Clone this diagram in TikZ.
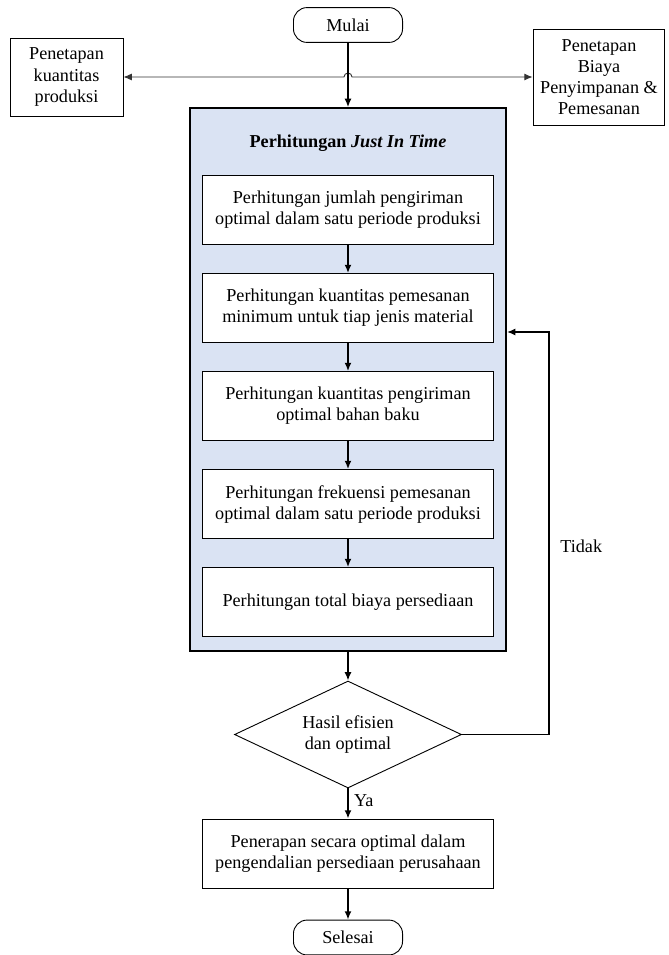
\documentclass[tikz,border=0pt]{standalone}
\usepackage{fontspec}
\setmainfont{Liberation Serif}
\usetikzlibrary{shapes.geometric,arrows,arrows.meta,fit,positioning}
\definecolor{jitbiru}{RGB}{218,227,243}

\begin{document}
\begin{tikzpicture}[x=0.66pt,y=-0.66pt,>={Latex[length=5.5pt,width=4.6pt]},font=\fontsize{12}{13.9}\selectfont]
\tikzstyle{proses}=[rectangle,draw=black,fill=white,line width=0.6pt,
align=center,inner sep=2pt,node distance=64.7pt,
minimum width=192pt,minimum height=45.5pt]
\tikzstyle{terminal}=[rectangle,rounded corners=9pt,draw=black,line width=0.6pt,
inner sep=2pt,minimum width=72pt,minimum height=23pt]
\tikzstyle{samping}=[rectangle,draw=black,line width=0.6pt,align=center,inner sep=2pt]
\tikzstyle{panah}=[->,line width=1.3pt]
\useasboundingbox (0,0) rectangle (668,955);

\node[terminal] at (348,25) (mulai) {Mulai};
\node[samping,minimum width=74.6pt,minimum height=51.5pt] at (66.5,77) (kuantitas) {Penetapan\\kuantitas\\produksi};
\node[samping,minimum width=87pt,minimum height=63.4pt] at (599,77) (biaya) {Penetapan\\Biaya\\Penyimpanan \&\\Pemesanan};

\coordinate (jitA) at (190,108);
\coordinate (jitB) at (506,651);
\node[draw=black,line width=1.3pt,fill=jitbiru,inner sep=0pt,fit=(jitA)(jitB)] (jit) {};
\node[font=\fontsize{12}{13.9}\selectfont\bfseries] at (348,143) (judul) {Perhitungan \textit{Just In Time}};

\node[proses] at (348,210) (hitung1) {Perhitungan jumlah pengiriman\\optimal dalam satu periode produksi};
\node[proses,below of =hitung1] (hitung2) {Perhitungan kuantitas pemesanan\\minimum untuk tiap jenis material};
\node[proses,below of =hitung2] (hitung3) {Perhitungan kuantitas pengiriman\\optimal bahan baku};
\node[proses,below of =hitung3] (hitung4) {Perhitungan frekuensi pemesanan\\optimal dalam satu periode produksi};
\node[proses,below of =hitung4] (hitung5) {Perhitungan total biaya persediaan};

\node[diamond,draw=black,line width=0.6pt,align=center,aspect=2,inner sep=0pt,
minimum width=149.8pt,minimum height=70.6pt] at (348,734.5) (cek) {Hasil efisien\\dan optimal};
\node[proses] at (348,853.5) (terap) {Penerapan secara optimal dalam\\pengendalian persediaan perusahaan};
\node[terminal] at (348,937.5) (selesai) {Selesai};
\node[right] at (555,546) (tidak) {Tidak};

\coordinate (lompatA) at (344,77);
\coordinate (balik) at (549,332);

\draw[<->,line width=0.6pt,black!80] (kuantitas.east) -- (lompatA) arc (180:0:2.64pt) -- (biaya.west);
\draw[->,line width=0.8pt] (mulai) -- (jit);
\path[panah] (hitung1) edge (hitung2) ;
\path[panah] (hitung2) edge (hitung3) ;
\path[panah] (hitung3) edge (hitung4) ;
\path[panah] (hitung4) edge (hitung5) ;
\path[panah] (jit) edge (cek) ;
\path[panah] (cek) edge node[right,pos=0.4] (ya) {Ya} (terap) ;
\path[panah] (terap) edge (selesai) ;
\draw[->,line width=1pt] (cek.east) -| (balik) -- (balik -| jit.east);

\end{tikzpicture}
\end{document}
